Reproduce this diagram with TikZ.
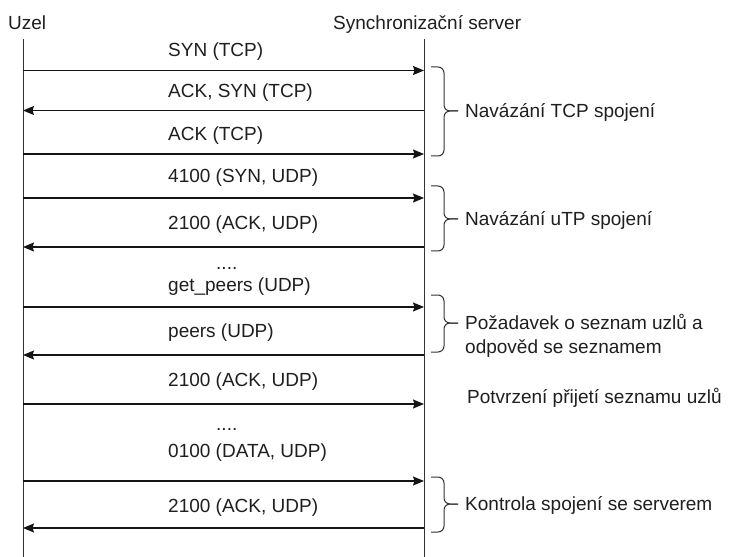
\documentclass[tikz,border=0pt]{standalone}
\usepackage{fontspec}
\setmainfont{Liberation Sans}
\usetikzlibrary{arrows.meta}
\begin{document}
\begin{tikzpicture}[x=1bp,y=-1bp,
  lbl/.style={inner sep=0pt, anchor=west, text height=13.6bp, text depth=0pt,
    font=\fontsize{19bp}{23bp}\selectfont, text=black!88},
  life/.style={line width=1bp, draw=black!80},
  msg/.style={line width=1.3bp, draw=black!92, -{Stealth[length=11bp,width=9bp,inset=1.5bp]}},
  brc/.style={line width=1bp, draw=black!80, rounded corners=6bp}]

\useasboundingbox (0,0) rectangle (729,557);
\fill[white] (0,0) rectangle (729,557);

% headers and lifelines
\node[lbl] (uzel) at (8,23) {Uzel};
\node[lbl] (srv) at (333,23) {Synchronizační server};
\coordinate (Lt) at (23,39);  \coordinate (Lb) at (23,557);
\coordinate (Rt) at (424,39); \coordinate (Rb) at (424,557);
\draw[life] (Lt) -- (Lb);
\draw[life] (Rt) -- (Rb);

% message end points
\foreach \i/\y in {1/70.5,2/110.5,3/154,4/198,5/247,6/307,7/355,8/404,9/481,10/528}{
  \coordinate (l\i) at (23,\y);
  \coordinate (r\i) at (424,\y);
}

% messages
\draw[msg] (l1) -- (r1);
\draw[msg] (r2) -- (l2);
\draw[msg] (l3) -- (r3);
\draw[msg] (l4) -- (r4);
\draw[msg] (r5) -- (l5);
\draw[msg] (l6) -- (r6);
\draw[msg] (r7) -- (l7);
\draw[msg] (l8) -- (r8);
\draw[msg] (l9) -- (r9);
\draw[msg] (r10) -- (l10);

% message labels
\node[lbl] (t1) at (168,50) {SYN (TCP)};
\node[lbl] (t2) at (168,91) {ACK, SYN (TCP)};
\node[lbl] (t3) at (168,134) {ACK (TCP)};
\node[lbl] (t4) at (168,176) {4100 (SYN, UDP)};
\node[lbl] (t5) at (168,223) {2100 (ACK, UDP)};
\node[lbl, anchor=base west] (d1) at (216,269.5) {....};
\node[lbl] (t6) at (168,285) {get\_peers (UDP)};
\node[lbl] (t7) at (168,331) {peers (UDP)};
\node[lbl] (t8) at (168,380) {2100 (ACK, UDP)};
\node[lbl, anchor=base west] (d2) at (216,430.5) {....};
\node[lbl] (t9) at (168,451) {0100 (DATA, UDP)};
\node[lbl] (t10) at (168,506) {2100 (ACK, UDP)};

% braces
\draw[brc] (431,67) -- (444,67) -- (444,111) -- (458,111);
\draw[brc] (431,156) -- (444,156) -- (444,111) -- (458,111);
\draw[brc] (431,186) -- (444,186) -- (444,219) -- (458,219);
\draw[brc] (431,251) -- (444,251) -- (444,219) -- (458,219);
\draw[brc] (431,295) -- (444,295) -- (444,323) -- (458,323);
\draw[brc] (431,352) -- (444,352) -- (444,323) -- (458,323);
\draw[brc] (431,477) -- (444,477) -- (444,504) -- (458,504);
\draw[brc] (431,532) -- (444,532) -- (444,504) -- (458,504);

% side notes
\node[lbl] (n1) at (465,111) {Navázání TCP spojení};
\node[lbl] (n2) at (465,219) {Navázání uTP spojení};
\node[lbl] (n3a) at (465,323) {Požadavek o seznam uzlů a};
\node[lbl] (n3b) at (465,347) {odpověd se seznamem};
\node[lbl] (n4) at (467,397) {Potvrzení přijetí seznamu uzlů};
\node[lbl] (n5) at (465,504) {Kontrola spojení se serverem};
\end{tikzpicture}
\end{document}
